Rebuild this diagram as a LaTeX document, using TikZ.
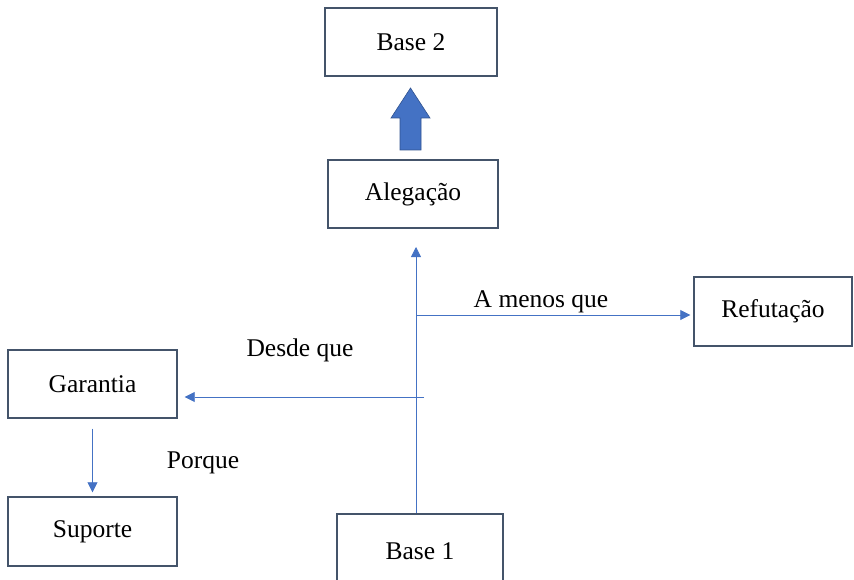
\documentclass[tikz,border=0pt]{standalone}
\usepackage{fontspec}
\setmainfont{Liberation Serif}
\usetikzlibrary{arrows.meta,calc}
\definecolor{linkblue}{HTML}{4472C4}
\definecolor{arrowedge}{HTML}{2F528F}
\definecolor{boxedge}{HTML}{44546A}
\tikzset{
  stage/.style={draw=boxedge, line width=1.4pt, fill=white, rectangle,
    minimum width=#1, minimum height=68pt, inner sep=0pt,
    font=\fontsize{25.5}{30}\selectfont},
  stage/.default=170pt,
  conn/.style={draw=linkblue, line width=0.8pt},
  tip/.style={-{Triangle[length=10pt,width=10pt]}},
  lbl/.style={font=\fontsize{25.5}{30}\selectfont, inner sep=0pt}
}
\begin{document}
\begin{tikzpicture}[x=1pt,y=-1pt]
  \useasboundingbox (0,0) rectangle (854,580);
  \clip (0,0) rectangle (854,580);

  % boxes
  \node[stage=172pt] (base2) at (411,42) {Base 2};
  \node[stage] (alegacao) at (413,194) {Alegação};
  \node[stage=158pt, minimum height=69pt] (refutacao) at (773,311.5) {Refutação};
  \node[stage=169pt] (garantia) at (92.5,384) {Garantia};
  \node[stage=169pt, minimum height=69pt] (suporte) at (92.5,531.5) {Suporte};
  \node[stage=166pt, minimum height=74pt] (base1) at (420,551) {\raisebox{-4pt}{Base 1}};

  % junction points on the main vertical line
  \coordinate (vbot) at (416,513);
  \coordinate (vtop) at (416,247);
  \coordinate (rj) at (416,315);
  \coordinate (gj) at (424,397);

  % connectors
  \draw[conn, tip] (vbot) -- (vtop);
  \draw[conn, tip, shorten >=3pt] (rj) -- (refutacao.west |- rj);
  \draw[conn, tip, shorten >=7pt] (gj) -- (garantia.east |- gj);
  \draw[conn, tip, shorten <=10pt, shorten >=4pt] (garantia.south) -- (suporte.north);

  % block arrow from Alegação up to Base 2
  \coordinate (bar) at (410.5,150);
  \fill[linkblue, draw=arrowedge, line width=0.6pt]
    ($(bar)+(-10.5,0)$) -- ++(0,-32) -- ++(-9,0) -- ($(bar)+(0,-62)$)
    -- ($(bar)+(19.5,-32)$) -- ++(-9,0) -- ($(bar)+(10.5,0)$) -- cycle;

  % labels
  \node[lbl] (amenos) at (541,302) {A menos que};
  \node[lbl] (desde) at (300,350) {Desde que};
  \node[lbl] (porque) at (203,463) {Porque};
\end{tikzpicture}
\end{document}
